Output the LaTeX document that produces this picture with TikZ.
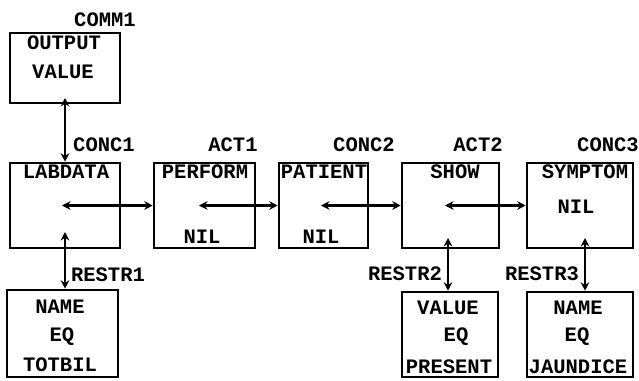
\documentclass[tikz,border=0pt]{standalone}
\usepackage{fontspec}
\setmonofont{Liberation Mono}
\usepackage{tikz}
\usetikzlibrary{arrows.meta}
\newcommand{\cdfont}{\ttfamily\bfseries\fontsize{14.6}{16}\selectfont}

\begin{document}
\begin{tikzpicture}[
  x=0.025cm, y=-0.025cm,
  font=\cdfont,
  box/.style 2 args={draw, line width=1.8pt, inner sep=0pt, minimum width=#1*0.025cm, minimum height=#2*0.025cm},
  word/.style={inner sep=0pt},
  arr/.style={line width=2pt, {Stealth[length=6pt,width=6pt]}-{Stealth[length=6pt,width=6pt]}}
]
\useasboundingbox (0,0) rectangle (639,381);

% concept boxes
\node[box={110}{70}] (comm1) at (65,68) {};
\node[box={110}{85}] (lab) at (65,205.5) {};
\node[box={101}{85}] (perform) at (204.5,205.5) {};
\node[box={89}{85}] (patient) at (323.5,205.5) {};
\node[box={97}{85}] (show) at (450.5,205.5) {};
\node[box={106}{85}] (symptom) at (580,205.5) {};
\node[box={111}{87}] (restr1) at (62.5,333.5) {};
\node[box={96}{85}] (restr2) at (450,334.5) {};
\node[box={106}{85}] (restr3) at (580,334.5) {};

% box texts
\node[word] (comm1-a) at (64,43) {OUTPUT};
\node[word] (comm1-b) at (63,72) {VALUE};
\node[word] (lab-a) at (66,172) {LABDATA};
\node[word] (perform-a) at (205,172) {PERFORM};
\node[word] (perform-b) at (202,237) {NIL};
\node[word] (patient-a) at (324,172) {PATIENT};
\node[word] (patient-b) at (321,237) {NIL};
\node[word] (show-a) at (455,172) {SHOW};
\node[word] (symptom-a) at (585,172) {SYMPTOM};
\node[word] (symptom-b) at (576,207) {NIL};
\node[word] (restr1-a) at (60,307) {NAME};
\node[word] (restr1-b) at (62,337) {EQ};
\node[word] (restr1-c) at (60,365) {TOTBIL};
\node[word] (restr2-a) at (448,308) {VALUE};
\node[word] (restr2-b) at (456,337) {EQ};
\node[word] (restr2-c) at (449,367) {PRESENT};
\node[word] (restr3-a) at (578,308) {NAME};
\node[word] (restr3-b) at (577,337) {EQ};
\node[word] (restr3-c) at (578,367) {JAUNDICE};

% box names
\node[word] (comm1-n) at (105,20) {COMM1};
\node[word] (lab-n) at (104,145) {CONC1};
\node[word] (perform-n) at (233,145) {ACT1};
\node[word] (patient-n) at (364,145) {CONC2};
\node[word] (show-n) at (478,145) {ACT2};
\node[word] (symptom-n) at (608,145) {CONC3};
\node[word] (restr1-n) at (108,275) {RESTR1};
\node[word] (restr2-n) at (405,274) {RESTR2};
\node[word] (restr3-n) at (542,274) {RESTR3};

% links
\coordinate (comm1-v) at (65,98);
\coordinate (lab-h) at (62,205.5);
\coordinate (lab-v) at (65,232);
\coordinate (perform-h) at (199,205.5);
\coordinate (patient-h) at (321,205.5);
\coordinate (show-h) at (445,205.5);
\coordinate (show-v) at (448,238);
\coordinate (symptom-v) at (585,238);
\draw[arr] (comm1-v) -- (lab.north);
\draw[arr] (lab-h) -- (perform.west);
\draw[arr] (perform-h) -- (patient.west);
\draw[arr] (patient-h) -- (show.west);
\draw[arr] (show-h) -- (symptom.west);
\draw[arr] (lab-v) -- (lab-v |- restr1.north);
\draw[arr] (show-v) -- (show-v |- restr2.north);
\draw[arr] (symptom-v) -- (symptom-v |- restr3.north);
\end{tikzpicture}
\end{document}
